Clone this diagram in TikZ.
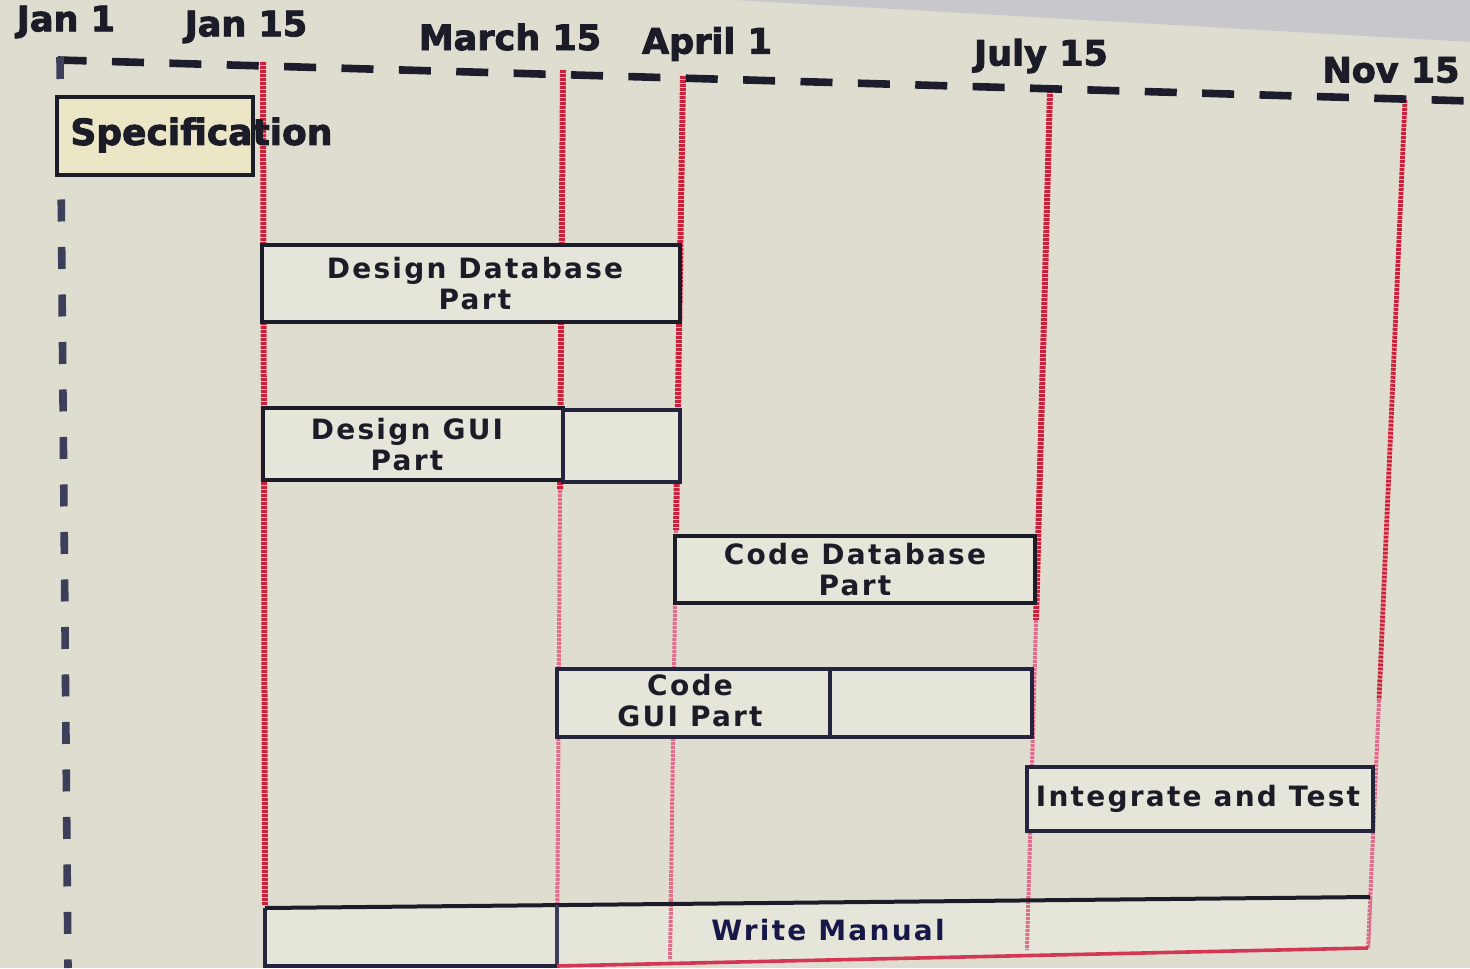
\documentclass[tikz,border=0pt]{standalone}
\usepackage{fontspec}
\setmainfont{DejaVu Sans}
\newfontfamily\hdrfont[FakeBold=2.5]{DejaVu Sans}
\newfontfamily\lblfont[LetterSpace=8]{DejaVu Sans}
\usetikzlibrary{fit,calc}
\definecolor{bg}{RGB}{222,221,208}
\definecolor{bezel}{RGB}{200,200,204}
\definecolor{specfill}{RGB}{234,230,198}
\definecolor{boxfill}{RGB}{230,229,218}
\definecolor{ink}{RGB}{28,28,40}
\definecolor{boxline}{RGB}{36,36,62}
\definecolor{redl}{RGB}{206,32,58}
\definecolor{pinkl}{RGB}{222,110,140}
\definecolor{dashc}{RGB}{28,28,44}
\definecolor{dashv}{RGB}{60,62,90}
\tikzset{
  hdr/.style={font=\hdrfont\bfseries\fontsize{17.5}{20}\selectfont, text=ink, inner sep=0pt},
  lbl/.style={font=\lblfont\bfseries\fontsize{14}{15.5}\selectfont, text=ink, align=center, inner sep=0pt},
  taskbox/.style={draw=boxline, line width=2pt, fill=boxfill, inner sep=0pt},
  redline/.style={draw=redl, line width=3pt, dash pattern=on 1.5pt off 0.5pt},
  pinkline/.style={draw=pinkl, line width=2pt, dash pattern=on 1.5pt off 0.5pt},
  topdash/.style={draw=dashc, line width=3.8pt, dash pattern=on 16pt off 12.7pt, dash phase=1.7pt},
  leftdash/.style={draw=dashv, line width=3.8pt, dash pattern=on 11pt off 12.75pt},
}
\begin{document}
\begin{tikzpicture}[x=0.5pt,y=-0.5pt]
\fill[bg] (0,0) rectangle (1470,968);
\useasboundingbox (0,0) rectangle (1470,968);
\fill[bezel] (735,0) -- (1470,0) -- (1470,42) -- cycle;

% date markers
\coordinate (j15t) at (263,62);   \coordinate (j15b) at (265,905);
\coordinate (m15t) at (563,70);   \coordinate (m15m) at (560,490);  \coordinate (m15b) at (557,960);
\coordinate (a1t)  at (683,76);   \coordinate (a1m)  at (676,530);  \coordinate (a1w) at (671,900); \coordinate (a1b)  at (670,960);
\coordinate (jl15t) at (1050,90); \coordinate (jl15m) at (1036,620); \coordinate (jl15w) at (1028.4,897); \coordinate (jl15b) at (1027,950);
\coordinate (n15t) at (1405,100); \coordinate (n15m) at (1379,700); \coordinate (n15w) at (1370.2,897); \coordinate (n15b) at (1368,948);

\draw[redline] (j15t) -- (j15b);
\draw[redline] (m15t) -- (m15m);  \draw[pinkline] (m15m) -- (m15b);
\draw[redline] (a1t) -- (a1m);    \draw[pinkline] (a1m) -- (a1b);
\draw[redline] (jl15t) -- (jl15m); \draw[pinkline] (jl15m) -- (jl15b);
\draw[redline, line width=2.4pt] (n15t) -- (n15m); \draw[pinkline] (n15m) -- (n15b);

% frame dashes
\coordinate (corner) at (58,60);
\coordinate (topend) at (1470,101);
\coordinate (leftend) at (68,968);
\draw[topdash] (corner) -- (topend);
\draw[leftdash] ($(corner)+(2,-3)$) -- (leftend);

% header labels
\node[hdr] (lj1)  at (66,22)   {Jan 1};
\node[hdr] (lj15) at (246,27)  {Jan 15};
\node[hdr] (lm15) at (510,37)  {March 15};
\node[hdr] (la1)  at (707,44)  {April 1};
\node[hdr] (ljl15) at (1041,56) {July 15};
\node[hdr] (ln15) at (1391,70) {Nov 15};

% tasks
\node[taskbox, fill=specfill, line width=2.4pt, draw=ink, fit={(57,97) (253,175)}] (spec) {};
\node[font=\hdrfont\bfseries\fontsize{18}{20}\selectfont, text=ink, anchor=west, inner sep=0pt] (spect) at (70,135) {Specification};

\node[taskbox, draw=ink, fit={(262,245) (680,322)}] (ddp) {};
\node[lbl] (ddpt) at (475,284) {Design Database\\Part};

\node[taskbox, draw=ink, fit={(263,408) (563,480)}] (dgp) {};
\node[taskbox, fit={(563,410) (680,482)}] (dgpx) {};
\node[lbl] (dgpt) at (407,445) {Design GUI\\Part};

\node[taskbox, draw=ink, fit={(675,536) (1035,603)}] (cdp) {};
\node[lbl] (cdpt) at (855,570) {Code Database\\Part};

\node[taskbox, fit={(557,669) (830,737)}] (cgp) {};
\node[taskbox, fit={(830,669) (1032,737)}] (cgpx) {};
\node[lbl] (cgpt) at (690,701) {Code\\GUI Part};

\node[taskbox, fit={(1027,767) (1373,831)}] (it) {};
\node[lbl] (itt) at (1198,799) {Integrate and Test};

% write manual
\coordinate (wmtl) at (265,908);
\coordinate (wmtr) at (1370,897);
\coordinate (wmbl) at (265,968);
\coordinate (wmdt) at (557,905);
\coordinate (wmdb) at (557,966);
\coordinate (wmbr) at (1368,948);
\fill[boxfill] (wmtl) -- (wmtr) -- (wmbr) -- (wmdb) -- (wmbl) -- cycle;
\draw[pinkline] (a1w) -- (a1b);
\draw[pinkline] (jl15w) -- (jl15b);
\draw[pinkline] (n15w) -- (n15b);
\draw[draw=ink, line width=2pt] (wmtl) -- (wmtr);
\draw[draw=boxline, line width=2pt] (wmtl) -- (wmbl);
\draw[draw=dashv, line width=2pt] (wmdt) -- (wmdb);
\draw[draw=boxline, line width=2pt] (wmdb) -- ++(-292,0);
\draw[draw=redl!70!pinkl, line width=1.8pt] (wmdb) -- (wmbr);
\node[lbl, text=ink!85!blue] (wmt) at (828,930) {Write Manual};
\end{tikzpicture}
\end{document}
